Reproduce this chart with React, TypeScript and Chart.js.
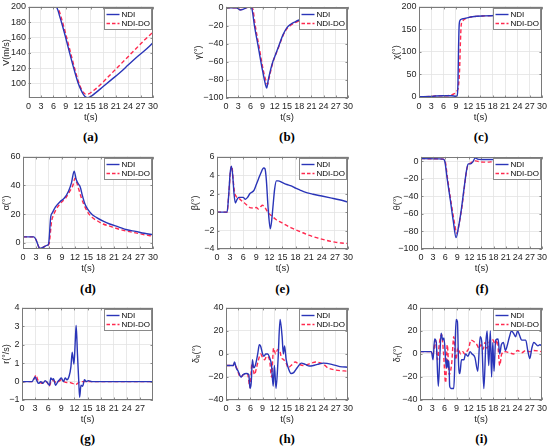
import React, { useEffect, useRef } from "react";
import { Chart, registerables } from "chart.js";
Chart.register(...registerables);

type P = [number, number][];

// ---------- data ----------
const T_TICKS = [0, 3, 6, 9, 12, 15, 18, 21, 24, 27, 30];
const T_TICKS_G = [0, 3, 6, 9, 12, 15, 18, 21, 24, 27];

const V_TICKS = [100, 120, 140, 160, 180, 200];
const V_NDI: P = [[0,200],[6.6,200],[7,197],[7.5,188],[8,179],[9,159],[10,138],[11,118],[12,100],[12.7,91],[13.3,85],[13.8,82],[14.3,81.5],[15,83],[16,87],[18,96],[20,105],[22,114],[24,124],[26,134],[28,143],[30,153]];
const V_DO: P = [[0,200],[6.8,200],[7.3,196],[8,184],[9,164],[10,143],[11,122],[12,103],[12.7,93],[13.3,88],[13.8,86],[14.5,86.5],[15,88],[16,92],[18,102],[20,113],[22,124],[24,135],[26,146],[28,157],[30,167]];

const G_TICKS = [-100, -80, -60, -40, -20, 0];
const G_NDI: P = [[0,0],[2.5,0],[3,-1],[3.5,-2.5],[4,-2],[4.5,-1],[5.3,0.5],[6,1],[6.3,0],[7,-20],[8,-45],[9,-70],[9.7,-85],[10,-89],[10.4,-80],[11,-68],[11.5,-60],[12,-54],[13,-42],[14,-30],[15,-22],[16,-18],[17,-15.5],[18,-13.5],[19,-12],[20,-10.5],[22,-9],[25,-7],[28,-4.5],[30,-3]];
const G_DO: P = [[0,0],[2.5,0],[3,-1],[3.5,-2],[4,-1.8],[4.5,-1],[5.3,0.5],[6,1],[6.5,0],[7.2,-20],[8.2,-45],[9.2,-70],[9.9,-82],[10.2,-85],[10.6,-78],[11.2,-66],[11.7,-58],[12.2,-52],[13,-43],[14,-31],[15,-23],[16,-19],[17,-16.5],[18,-14.5],[19,-13],[20,-11.5],[22,-10],[25,-8],[28,-6],[30,-7]];

const C_TICKS = [0, 50, 100, 150, 200];
const C_NDI: P = [[0,0],[3,0.5],[4,1.5],[6,2],[8,2],[9,1],[9.3,2],[9.5,30],[9.65,110],[9.8,160],[10,170],[10.5,173],[11.5,175],[13,178],[16,180],[20,181],[25,181.5],[30,182]];
const C_DO: P = [[0,0],[3,0.5],[4,1.5],[6,2],[7.5,3],[8.5,6],[9.2,12],[9.6,22],[9.9,60],[10.1,120],[10.3,160],[10.6,168],[11,172],[12,176],[13,178],[16,180],[20,181],[25,181.5],[30,182]];

const A_TICKS = [0, 20, 40, 60];
const A_NDI: P = [[0,4],[2.5,4],[3,2],[3.5,-2],[3.8,-4],[4.5,-3.5],[5.5,-2],[5.9,-1],[6.4,18],[6.8,21],[7.5,25],[8.5,28.5],[9.5,31],[10.5,36],[11.2,42],[11.8,50],[12.3,44],[12.8,41],[13.2,39],[13.7,33],[14.3,27],[15,23],[16,19.5],[17,17.5],[18.5,15],[20,13],[22,11],[24,9],[26,7.8],[28,6.5],[30,5.5]];
const A_DO: P = [[0,4],[2.5,4],[3,2],[3.5,-2],[3.9,-4],[4.5,-3.5],[5.5,-2],[6,-1],[6.6,15],[7,19],[7.8,24],[8.8,28],[9.8,31],[10.8,36],[11.5,40],[12,45],[12.4,42],[12.9,37],[13.5,31],[14,27],[15,21],[16,17.5],[17,15.5],[18.5,13],[20,11.5],[22,9.5],[24,8],[26,6.8],[28,5.5],[30,4.5]];

const B_TICKS = [-4, -2, 0, 2, 4, 6];
const B_NDI: P = [[0,0],[2.3,0],[2.7,2],[3,4.2],[3.3,5],[3.6,4],[3.9,2],[4.2,1],[4.6,1.4],[5,1.6],[6,1.6],[6.5,1.4],[7,1.6],[7.5,2],[8.5,2.4],[9,3],[9.5,3.6],[10,4.2],[10.7,4.8],[11,4.7],[11.3,3.5],[11.7,0.5],[12.2,-1.8],[12.5,-1],[12.8,0.5],[13.2,2.5],[13.6,3.4],[14,3.4],[15,3.2],[16,3.0],[17,2.85],[18,2.6],[19,2.4],[20,2.2],[22,1.95],[24,1.75],[26,1.55],[28,1.35],[30,1.1]];
const B_DO: P = [[0,0],[2.3,0],[2.7,2],[3.1,4.5],[3.4,5],[3.7,3.5],[4,2.2],[4.4,1.7],[5,1.5],[5.5,1.3],[6.3,1],[7,0.7],[7.5,0.5],[8.5,0.45],[9,0.5],[9.5,0.35],[10,0.6],[10.4,0.75],[11,0.5],[11.5,0.1],[12,-0.2],[12.5,-0.4],[13.5,-0.8],[15,-1.2],[17,-1.7],[19,-2.1],[21,-2.5],[23,-2.8],[25,-3.05],[27,-3.25],[28.5,-3.35],[30,-3.4]];

const TH_TICKS = [-100, -80, -60, -40, -20, 0];
const TH_NDI: P = [[0,3],[5.5,2.5],[5.9,0],[6.5,-20],[7.3,-45],[8,-68],[8.7,-87],[9.3,-75],[10,-55],[10.7,-30],[11.3,-10],[11.7,-3],[12.3,-3],[12.8,-1],[13.3,3],[13.6,4],[14,2.5],[15,2],[20,2],[30,2]];
const TH_DO: P = [[0,3],[5.5,2.5],[6,0],[6.6,-20],[7.4,-45],[8.1,-65],[8.9,-82],[9.5,-70],[10.2,-50],[10.8,-28],[11.4,-8],[11.8,-4],[12.3,-2],[13,0],[13.6,0.5],[14.5,-0.5],[16,-1],[18,-0.5],[20,0],[30,0]];

const R_TICKS = [-1, 0, 1, 2, 3, 4];
const R_NDI: P = [[0,0],[2.3,0],[2.7,0.15],[3,0.25],[3.4,0.05],[3.8,-0.1],[4.3,0],[4.8,-0.1],[5.3,0.05],[5.8,-0.05],[6.3,-0.2],[6.6,0.2],[6.9,0.1],[7.2,0.15],[7.7,-0.2],[8.2,0],[8.6,0.1],[9,0.2],[9.5,0],[9.9,0.2],[10.3,0.1],[10.8,0.3],[11.2,0.8],[11.5,1.6],[11.9,0.95],[12.2,2.2],[12.4,3.05],[12.7,1.5],[13,0],[13.2,-0.85],[13.5,-0.2],[13.9,-0.25],[14.3,0.1],[14.7,0],[15.2,0.05],[16,0],[30,0]];
const R_DO: P = [[0,0],[2.3,0],[2.8,0.15],[3.2,0.35],[3.6,0.1],[4,0],[4.5,-0.1],[5,0],[5.6,0],[6.2,-0.25],[6.7,0],[7.2,0.05],[7.8,-0.05],[8.4,0],[9,0.1],[9.6,0],[10.3,-0.05],[11,-0.05],[11.6,-0.1],[12.4,-0.15],[13,-0.05],[13.6,0],[30,0]];

const DE_TICKS = [-40, -20, 0, 20, 40];
const DE_NDI: P = [[0,-10],[1.8,-10],[2.1,-7],[2.5,-12],[3,-15],[3.7,-20],[4.2,-18],[5,-17],[5.6,-18],[5.9,-30],[6.2,-25],[6.5,-5],[6.8,-12],[7.2,-10],[7.8,0],[8.2,8],[8.5,7],[9,0],[9.3,-2],[9.8,0],[10.3,0],[10.7,-3],[11.2,-10],[11.6,-28],[11.9,-10],[12.3,-30],[12.8,-5],[13.3,30],[13.8,15],[14.1,0],[14.4,7],[14.8,-5],[15.3,-12],[16,-17],[16.7,-16],[17.5,-12],[18.5,-8],[19.5,-9],[20.5,-10.5],[21.5,-10],[22.5,-9],[24,-8],[26,-9],[28,-11],[30,-11.5]];
const DE_DO: P = [[0,-10],[1.8,-10],[2.1,-8],[2.6,-12],[3.6,-20],[4.3,-18],[5.3,-17.5],[5.9,-29],[6.4,-8],[7,-18],[7.5,-12],[8,-5],[8.5,0],[9,-3],[9.5,-5],[10,-2],[10.7,-5],[11.2,-20],[11.7,5],[12.2,0],[12.7,4],[13.2,3],[13.6,-3],[14.2,-5],[14.8,-8],[15.3,-12],[16,-10],[17,-7],[18,-9],[19,-10],[21,-8],[22,-7],[24,-9],[25,-12],[27,-14],[30,-15]];

const DR_TICKS = [-40, -20, 0, 20, 40];
const DR_NDI: P = [[0,2],[2.8,2],[3.2,-5],[3.6,13],[4,10],[4.5,-28],[4.9,0],[5.2,18],[5.6,12],[5.9,14],[6.3,-5],[6.5,-12],[6.7,-5],[6.9,-12],[7.1,-6],[7.3,-28],[7.6,-30],[8.3,-30],[8.5,-15],[8.7,15],[8.9,30],[9.2,28],[9.5,-10],[9.8,-17],[10.2,-5],[10.8,-5],[11.2,0],[11.8,-2],[12.3,2],[12.8,0],[13.5,-3],[14.2,-15],[14.8,15],[15.2,10],[15.7,-30],[16.2,10],[16.5,20],[16.9,-10],[17.3,20],[17.6,-20],[17.9,10],[18.2,-15],[18.6,12],[19.2,13],[19.6,0],[20,8],[20.5,10],[21,3],[21.5,8],[22,15],[22.5,20],[23,18],[23.5,15],[24,20],[24.5,16],[25,12],[26,12],[26.5,3],[27,-4],[27.5,5],[28,10],[29,7],[29.5,8],[30,7]];
const DR_DO: P = [[0,2],[2.8,2],[3.2,0],[3.8,12],[4.3,-5],[4.8,10],[5.3,17],[5.8,0],[6.3,-25],[6.7,8],[7.2,-18],[7.8,-8],[8.3,15],[8.8,-5],[9.3,5],[10,0],[10.5,2],[11,0],[11.5,2],[12,5],[12.5,12],[13.5,10],[14,8],[14.5,5],[15,8],[15.5,4],[16,10],[16.5,5],[17,10],[17.5,13],[18,12],[18.5,8],[19,12],[19.6,-10],[20.1,0],[21,2],[22,1],[23,0],[24,3],[25,1],[26,3],[27,2],[28,3],[30,2]];

const SERIES_NAMES = ["NDI", "NDI-DO"];

// ---------- style / layout ----------
const BLUE = "#2a35b8";
const RED = "#ff2a4f";
const FONT = "'Liberation Sans', Arial, sans-serif";

interface Spec {
  caption: string;
  yTitle: string;
  yMin: number;
  yMax: number;
  yTicks: number[];
  xTicks: number[];
  ndi: P;
  ndido: P;
  L: number; T: number; R: number; B: number;
  titleX: number;
  tY: number;
  capY: number;
}

const row1 = { T: 5, B: 98, tY: 117, capY: 137 };
const row2 = { T: 155, B: 249, tY: 268, capY: 289 };
const row3 = { T: 306, B: 400, tY: 419, capY: 439 };

const SPECS: Spec[] = [
  { caption: "(a)", yTitle: "V(m/s)", yMin: 81, yMax: 200, yTicks: V_TICKS, xTicks: T_TICKS, ndi: V_NDI, ndido: V_DO, L: 28, R: 153, titleX: 6.5, ...row1 },
  { caption: "(b)", yTitle: "γ(°)", yMin: -100, yMax: 1, yTicks: G_TICKS, xTicks: T_TICKS, ndi: G_NDI, ndido: G_DO, L: 226, R: 348, titleX: 199, ...row1 },
  { caption: "(c)", yTitle: "χ(°)", yMin: -3, yMax: 200, yTicks: C_TICKS, xTicks: T_TICKS, ndi: C_NDI, ndido: C_DO, L: 419, R: 543, titleX: 397, ...row1 },
  { caption: "(d)", yTitle: "α(°)", yMin: -4.5, yMax: 60, yTicks: A_TICKS, xTicks: T_TICKS, ndi: A_NDI, ndido: A_DO, L: 23, R: 153, titleX: 7, ...row2 },
  { caption: "(e)", yTitle: "β(°)", yMin: -4, yMax: 6, yTicks: B_TICKS, xTicks: T_TICKS, ndi: B_NDI, ndido: B_DO, L: 217, R: 348, titleX: 196, ...row2 },
  { caption: "(f)", yTitle: "θ(°)", yMin: -100, yMax: 5, yTicks: TH_TICKS, xTicks: T_TICKS, ndi: TH_NDI, ndido: TH_DO, L: 421, R: 543, titleX: 398, ...row2 },
  { caption: "(g)", yTitle: "r(°/s)", yMin: -1, yMax: 4, yTicks: R_TICKS, xTicks: T_TICKS_G, ndi: R_NDI, ndido: R_DO, L: 22, R: 153, titleX: 7, ...row3 },
  { caption: "(h)", yTitle: "δₑ(°)", yMin: -40, yMax: 40, yTicks: DE_TICKS, xTicks: T_TICKS, ndi: DE_NDI, ndido: DE_DO, L: 226, R: 348, titleX: 197, ...row3 },
  { caption: "(i)", yTitle: "δᵣ(°)", yMin: -40, yMax: 40, yTicks: DR_TICKS, xTicks: T_TICKS, ndi: DR_NDI, ndido: DR_DO, L: 420, R: 543, titleX: 398, ...row3 },
];

const framePlugin = {
  id: "matlabFrame",
  afterDatasetsDraw(chart: any) {
    const { ctx, chartArea: ca, scales } = chart;
    ctx.save();
    // inward tick marks
    ctx.strokeStyle = "#6e6e6e";
    ctx.lineWidth = 0.8;
    ctx.beginPath();
    for (const t of scales.x.ticks) {
      const px = Math.round(scales.x.getPixelForValue(t.value)) + 0.5;
      ctx.moveTo(px, ca.bottom); ctx.lineTo(px, ca.bottom - 2.5);
      ctx.moveTo(px, ca.top); ctx.lineTo(px, ca.top + 2.5);
    }
    for (const t of scales.y.ticks) {
      const py = Math.round(scales.y.getPixelForValue(t.value)) + 0.5;
      ctx.moveTo(ca.left, py); ctx.lineTo(ca.left + 2.5, py);
      ctx.moveTo(ca.right, py); ctx.lineTo(ca.right - 2.5, py);
    }
    ctx.stroke();
    // box
    ctx.strokeStyle = "#7a7a7a";
    ctx.lineWidth = 1;
    ctx.strokeRect(Math.round(ca.left) + 0.5, Math.round(ca.top) + 0.5, Math.round(ca.right - ca.left) - 1, Math.round(ca.bottom - ca.top) - 1);
    // legend
    const w = 47, h = 21;
    const x0 = Math.round(ca.right - 2 - w) + 0.5;
    const y0 = Math.round(ca.top + 1.5) + 0.5;
    ctx.fillStyle = "#ffffff";
    ctx.fillRect(x0, y0, w, h);
    ctx.strokeStyle = "#8a8a8a";
    ctx.lineWidth = 1;
    ctx.strokeRect(x0, y0, w, h);
    const rows = [y0 + 6, y0 + 15];
    const colors = [BLUE, RED];
    ctx.font = `8px ${FONT}`;
    ctx.textBaseline = "middle";
    ctx.textAlign = "left";
    rows.forEach((ry, i) => {
      ctx.strokeStyle = colors[i];
      ctx.lineWidth = 1.4;
      ctx.setLineDash(i === 1 ? [3.5, 2] : []);
      ctx.beginPath();
      ctx.moveTo(x0 + 2, ry);
      ctx.lineTo(x0 + 15, ry);
      ctx.stroke();
      ctx.setLineDash([]);
      ctx.fillStyle = "#000000";
      ctx.fillText(SERIES_NAMES[i], x0 + 17, ry + 0.5);
    });
    ctx.restore();
  },
};

function Panel({ spec }: { spec: Spec }) {
  const ref = useRef<HTMLCanvasElement>(null);
  const cLeft = spec.titleX - 6;
  const cTop = spec.T - 6;
  const padR = Math.min(8, 550 - spec.R);
  const yW = spec.L - cLeft;
  const xH = spec.tY - spec.B + 6;
  const w = spec.R + padR - cLeft;
  const h = spec.B + xH - cTop;

  useEffect(() => {
    if (!ref.current) return;
    const fmt = (v: any) => String(v).replace("-", "\u2212");
    const chart = new Chart(ref.current, {
      type: "line",
      data: {
        datasets: [
          {
            label: SERIES_NAMES[0],
            data: spec.ndi.map(([x, y]) => ({ x, y })),
            borderColor: BLUE,
            borderWidth: 1.4,
            pointRadius: 0,
            fill: false,
            cubicInterpolationMode: "monotone",
          },
          {
            label: SERIES_NAMES[1],
            data: spec.ndido.map(([x, y]) => ({ x, y })),
            borderColor: RED,
            borderWidth: 1.4,
            borderDash: [4, 2.5],
            pointRadius: 0,
            fill: false,
            cubicInterpolationMode: "monotone",
          },
        ],
      },
      options: {
        animation: false,
        responsive: false,
        layout: { padding: { top: 6, right: padR, left: 0, bottom: 0 } },
        plugins: { legend: { display: false }, tooltip: { enabled: false } },
        scales: {
          x: {
            type: "linear",
            min: 0,
            max: 30,
            afterBuildTicks: (s: any) => { s.ticks = spec.xTicks.map((v) => ({ value: v })); },
            afterFit: (s: any) => { s.height = xH; },
            grid: { color: "#e3e3e3", lineWidth: 0.8, drawTicks: false },
            border: { display: false },
            ticks: { padding: 3, color: "#262626", font: { family: FONT, size: 9 }, maxRotation: 0, autoSkip: false, callback: fmt },
            title: { display: true, text: "t(s)", color: "#262626", font: { family: FONT, size: 9.5 }, padding: { top: 0, bottom: 0 } },
          },
          y: {
            type: "linear",
            min: spec.yMin,
            max: spec.yMax,
            afterBuildTicks: (s: any) => { s.ticks = spec.yTicks.map((v) => ({ value: v })); },
            afterFit: (s: any) => { s.width = yW; },
            grid: { color: "#e3e3e3", lineWidth: 0.8, drawTicks: false },
            border: { display: false },
            ticks: { padding: 2.5, color: "#262626", font: { family: FONT, size: 9 }, autoSkip: false, callback: fmt },
            title: { display: true, text: spec.yTitle, color: "#262626", font: { family: FONT, size: 9 }, padding: { top: 0.6, bottom: 0 } },
          },
        },
      } as any,
      plugins: [framePlugin],
    });
    return () => chart.destroy();
  }, []);

  return (
    <>
      <canvas
        ref={ref}
        width={w}
        height={h}
        style={{ position: "absolute", left: cLeft, top: cTop, width: w, height: h }}
      />
      <div
        style={{
          position: "absolute",
          left: (spec.L + spec.R) / 2,
          top: spec.capY,
          transform: "translate(-50%, -50%)",
          fontFamily: "'Liberation Serif', 'DejaVu Serif', serif",
          fontWeight: "bold",
          fontSize: 13,
          color: "#000",
          whiteSpace: "nowrap",
        }}
      >
        {spec.caption}
      </div>
    </>
  );
}

export default function App() {
  return (
    <div
      style={{
        position: "absolute",
        left: 0,
        top: 0,
        width: 550,
        height: 446,
        overflow: "hidden",
        background: "#ffffff",
      }}
    >
      {SPECS.map((s) => (
        <Panel key={s.caption} spec={s} />
      ))}
    </div>
  );
}
